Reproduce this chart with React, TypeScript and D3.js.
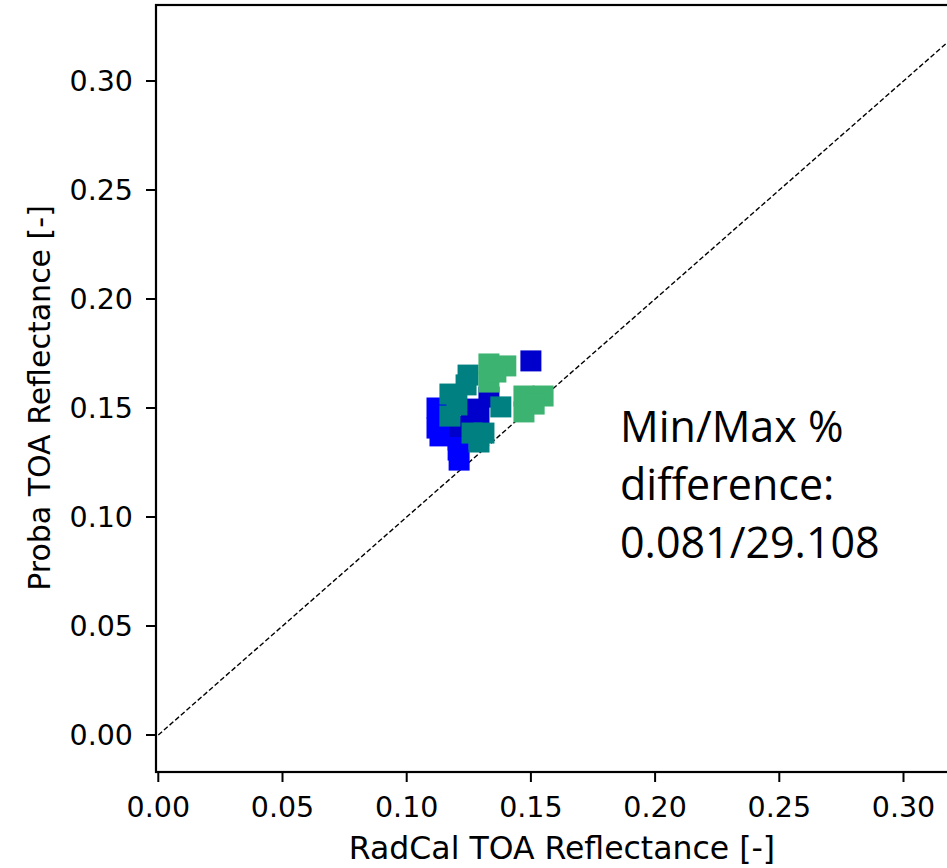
import * as d3 from 'd3'

// tick values
const xTicks = [0, 0.05, 0.1, 0.15, 0.2, 0.25, 0.3]
const yTicks = [0, 0.05, 0.1, 0.15, 0.2, 0.25, 0.3]

// scatter points [RadCal, Proba], one list per colour
const bluePts = [
  [0.1122, 0.15], [0.1122, 0.1408], [0.1134, 0.1372],
  [0.1207, 0.1353], [0.1207, 0.1307], [0.1211, 0.1261],
]
const darkBluePts = [
  [0.1259, 0.1495], [0.1291, 0.1463], [0.1331, 0.155],
  [0.1213, 0.1415], [0.15, 0.1716],
]
const tealPts = [
  [0.1247, 0.1651], [0.1239, 0.1606], [0.1174, 0.1564],
  [0.1174, 0.1463], [0.1202, 0.1514], [0.1263, 0.1385],
  [0.1291, 0.1344], [0.1311, 0.1385], [0.1379, 0.1505],
]
const greenPts = [
  [0.1331, 0.1702], [0.1399, 0.1693], [0.1331, 0.1619],
  [0.1359, 0.1665], [0.1472, 0.1555], [0.1549, 0.1555],
  [0.1472, 0.1482], [0.1513, 0.1518],
]
const series = [
  { name: 'blue', pts: bluePts, color: '#0000ff' },
  { name: 'darkblue', pts: darkBluePts, color: '#0000cd' },
  { name: 'teal', pts: tealPts, color: '#008080' },
  { name: 'green', pts: greenPts, color: '#3cb371' },
]
const noteLines = ['Min/Max %', 'difference:', '0.081/29.108']

export default function App() {
  const width = 947
  const height = 868
  const box = { left: 156, top: 5, right: 965, bottom: 772 }

  const x = d3.scaleLinear().domain([0, 0.3]).range([158.3, 903.5])
  const y = d3.scaleLinear().domain([0, 0.3]).range([735, 81])
  const size = 21
  const font = 'DejaVu Sans, sans-serif'

  const diag = d3.line<number>().x(d => x(d)).y(d => y(d))([0, 0.4]) || ''

  return (
    <svg width={width} height={height} style={{ position: 'absolute', left: 0, top: 0, background: '#fff' }}>
      <defs>
        <clipPath id="plot">
          <rect x={box.left} y={box.top} width={box.right - box.left} height={box.bottom - box.top} />
        </clipPath>
      </defs>

      <g clipPath="url(#plot)">
        <path d={diag} fill="none" stroke="#000" strokeWidth={1.4} strokeDasharray="5,2.5" />
        {series.map(s => (
          <g key={s.name}>
            {s.pts.map((p, i) => (
              <rect key={i} x={x(p[0]) - size / 2} y={y(p[1]) - size / 2} width={size} height={size} fill={s.color} />
            ))}
          </g>
        ))}
      </g>

      <rect x={box.left} y={box.top} width={box.right - box.left} height={box.bottom - box.top}
        fill="none" stroke="#000" strokeWidth={2.2} />

      {xTicks.map(t => (
        <g key={'x' + t}>
          <line x1={x(t)} x2={x(t)} y1={box.bottom} y2={box.bottom + 10} stroke="#000" strokeWidth={2} />
          <text x={x(t)} y={817} textAnchor="middle" fontFamily={font} fontSize={28.5}>{t.toFixed(2)}</text>
        </g>
      ))}
      {yTicks.map(t => (
        <g key={'y' + t}>
          <line x1={box.left - 10} x2={box.left} y1={y(t)} y2={y(t)} stroke="#000" strokeWidth={2} />
          <text x={133} y={y(t)} dy="0.36em" textAnchor="end" fontFamily={font} fontSize={28.5}>{t.toFixed(2)}</text>
        </g>
      ))}

      <text x={562} y={859} textAnchor="middle" fontFamily={font} fontSize={31.5}>RadCal TOA Reflectance [-]</text>
      <text transform={`translate(50,${398}) rotate(-90)`} textAnchor="middle" fontFamily={font} fontSize={30}>
        Proba TOA Reflectance [-]
      </text>

      {noteLines.map((l, i) => (
        <text key={l} x={620} y={442 + i * 58} fontFamily="Open Sans, sans-serif" fontSize={43}>{l}</text>
      ))}
    </svg>
  )
}
